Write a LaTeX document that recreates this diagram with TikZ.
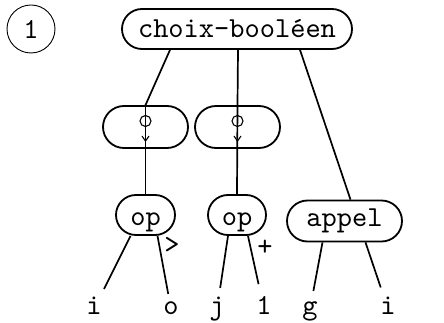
\documentclass[tikz,border=0pt]{standalone}
\usepackage{fontspec}
\usetikzlibrary{shapes.misc,arrows.meta}
\newfontfamily\twf{lmmono10-regular}[Extension=.otf]
\newcommand\tw{\twf\fontsize{29}{31}\selectfont}
\begin{document}
\begin{tikzpicture}[x=1pt,y=-1pt,
  box/.style={rounded rectangle, draw, line width=1.8pt, inner sep=0pt, font=\tw},
  conn/.style={line width=1.7pt},
  tiparrow/.style={line width=1.1pt,-{Straight Barb[length=5pt,width=7pt]}},
  ring/.style={circle, draw, line width=1.1pt, minimum size=11pt, inner sep=0pt},
  leaf/.style={font=\tw, anchor=base, inner sep=0pt, text height=15pt, text depth=5pt},
  edgelabel/.style={font=\tw, inner sep=0pt}]
\useasboundingbox (0,0) rectangle (444,323);
\node[circle, draw, line width=0.9pt, minimum size=48pt, inner sep=0pt, font=\tw] (num) at (31,29) {1};
\node[box, minimum width=230pt, minimum height=40pt] (cb) at (237,29) {choix-booléen};
\node[box, minimum width=85pt, minimum height=42pt] (sL) at (145.5,127) {};
\node[box, minimum width=85pt, minimum height=42pt] (sM) at (237.5,127) {};
\node[box, minimum width=59pt, minimum height=40pt, text height=20pt, text depth=0pt] (opL) at (145.5,215) {op};
\node[box, minimum width=58pt, minimum height=40pt, text height=20pt, text depth=0pt] (opM) at (237,215) {op};
\node[box, minimum width=115pt, minimum height=41pt] (ap) at (344.5,221) {appel};
\node[ring] (cL) at ([yshift=6pt]sL.center) {};
\node[ring] (cM) at ([yshift=6pt]sM.center) {};
\node[leaf] (l1) at (94,314) {i};
\node[leaf] (l2) at (171,314) {o};
\node[leaf] (l3) at (217,314) {j};
\node[leaf] (l4) at (264,314) {1};
\node[leaf] (l5) at (310,314) {g};
\node[leaf] (l6) at (388,314) {i};
\node[edgelabel] (gt) at (172,245) {>};
\node[edgelabel] (pl) at (265,248) {+};
% top connectors
\draw[conn] ([xshift=-67pt]cb.south) -- (sL.north);
\draw[conn] ([xshift=1pt]cb.south) -- (sM.north);
\draw[conn] ([xshift=63pt]cb.south) -- ([xshift=6pt]ap.north);
% through lines
\draw[conn] (sL.north) -- (opL.north);
\draw[conn] (sM.north) -- (opM.north);
\draw[tiparrow] ([yshift=-8pt]sL.center) -- ([yshift=-15pt]sL.center);
\draw[tiparrow] ([yshift=-8pt]sM.center) -- ([yshift=-15pt]sM.center);
% leaves
\draw[conn, shorten >=11pt] ([xshift=-15pt]opL.south) -- (l1);
\draw[conn, shorten >=5pt] ([xshift=12pt]opL.south) -- (l2);
\draw[conn, shorten >=11pt] ([xshift=-9pt]opM.south) -- (l3);
\draw[conn, shorten >=15pt] ([xshift=11pt]opM.south) -- (l4);
\draw[conn, shorten >=8pt] ([xshift=-22pt]ap.south) -- (l5);
\draw[conn, shorten >=12pt] ([xshift=21pt]ap.south) -- (l6);
\end{tikzpicture}
\end{document}
